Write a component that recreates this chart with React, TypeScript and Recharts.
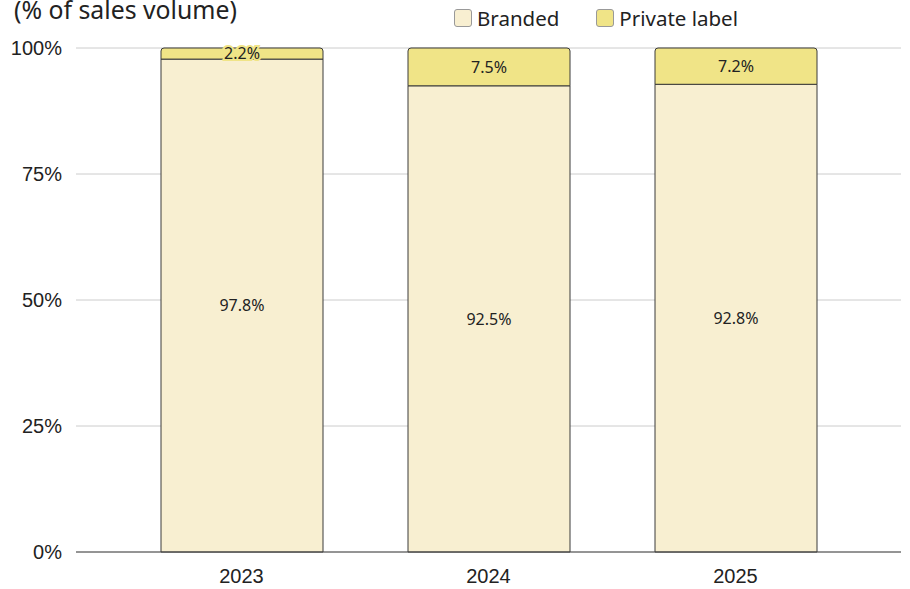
import React from 'react';
import { BarChart, Bar, XAxis, YAxis, CartesianGrid, LabelList } from 'recharts';

const years = ['2023', '2024', '2025'];
const branded = [97.8, 92.5, 92.8];
const privateLabel = [2.2, 7.5, 7.2];
const yTicks = [0, 25, 50, 75, 100];

const data = years.map((y, i) => ({ year: y, branded: branded[i], privateLabel: privateLabel[i] }));

const BRANDED = '#F8EFD1';
const PRIVATE = '#F0E487';
const EDGE = '#3a3a3a';

const fmt = (v: any) => `${Number(v).toFixed(1)}%`;

export default function App() {
  return (
    <div style={{ position: 'absolute', left: 0, top: 0, width: 910, height: 589, background: '#fff', overflow: 'hidden' }}>
      <div style={{ position: 'absolute', left: 14, top: -8, fontFamily: 'Noto Sans, sans-serif', fontSize: 24.8, color: '#222', whiteSpace: 'nowrap' }}>
        (% of sales volume)
      </div>
      <div style={{ position: 'absolute', left: 454, top: 4, display: 'flex', alignItems: 'center', fontFamily: 'Noto Sans, sans-serif', fontSize: 20.5, color: '#222' }}>
        <span style={{ width: 18, height: 18, background: BRANDED, border: '1px solid #999', borderRadius: 3, boxSizing: 'border-box', display: 'inline-block', marginRight: 5 }} />
        <span style={{ marginRight: 37 }}>Branded</span>
        <span style={{ width: 18, height: 18, background: PRIVATE, border: '1px solid #999', borderRadius: 3, boxSizing: 'border-box', display: 'inline-block', marginRight: 5 }} />
        <span>Private label</span>
      </div>
      <BarChart
        width={910}
        height={589}
        data={data}
        margin={{ top: 48, right: 9, bottom: 0, left: 0 }}
        barSize={162}
      >
        <CartesianGrid vertical={false} stroke="#cccccc" strokeWidth={1} />
        <XAxis
          dataKey="year"
          height={37}
          tickLine={false}
          axisLine={{ stroke: '#444', strokeWidth: 1 }}
          padding={{ left: 42, right: 42 }}
          tick={{ fill: '#222', fontSize: 20, fontFamily: 'Liberation Sans, Arial, sans-serif' }}
          tickMargin={11}
        />
        <YAxis
          width={76}
          domain={[0, 100]}
          ticks={yTicks}
          tickFormatter={(v: number) => `${v}%`}
          tickLine={false}
          axisLine={false}
          tick={{ fill: '#222', fontSize: 20, fontFamily: 'Liberation Sans, Arial, sans-serif' }}
          tickMargin={8}
        />
        <Bar dataKey="branded" stackId="a" fill={BRANDED} stroke={EDGE} strokeWidth={1} isAnimationActive={false}>
          <LabelList dataKey="branded" position="center" formatter={fmt} fill="#222" fontSize={16} fontFamily="Noto Sans, sans-serif" />
        </Bar>
        <Bar dataKey="privateLabel" stackId="a" fill={PRIVATE} stroke={EDGE} strokeWidth={1} radius={[3, 3, 0, 0]} isAnimationActive={false}>
          <LabelList
            dataKey="privateLabel"
            position="center"
            formatter={fmt}
            fill="#222"
            fontSize={16}
            fontFamily="Noto Sans, sans-serif"
            stroke={PRIVATE}
            strokeWidth={4}
            style={{ paintOrder: 'stroke' }}
          />
        </Bar>
      </BarChart>
    </div>
  );
}
